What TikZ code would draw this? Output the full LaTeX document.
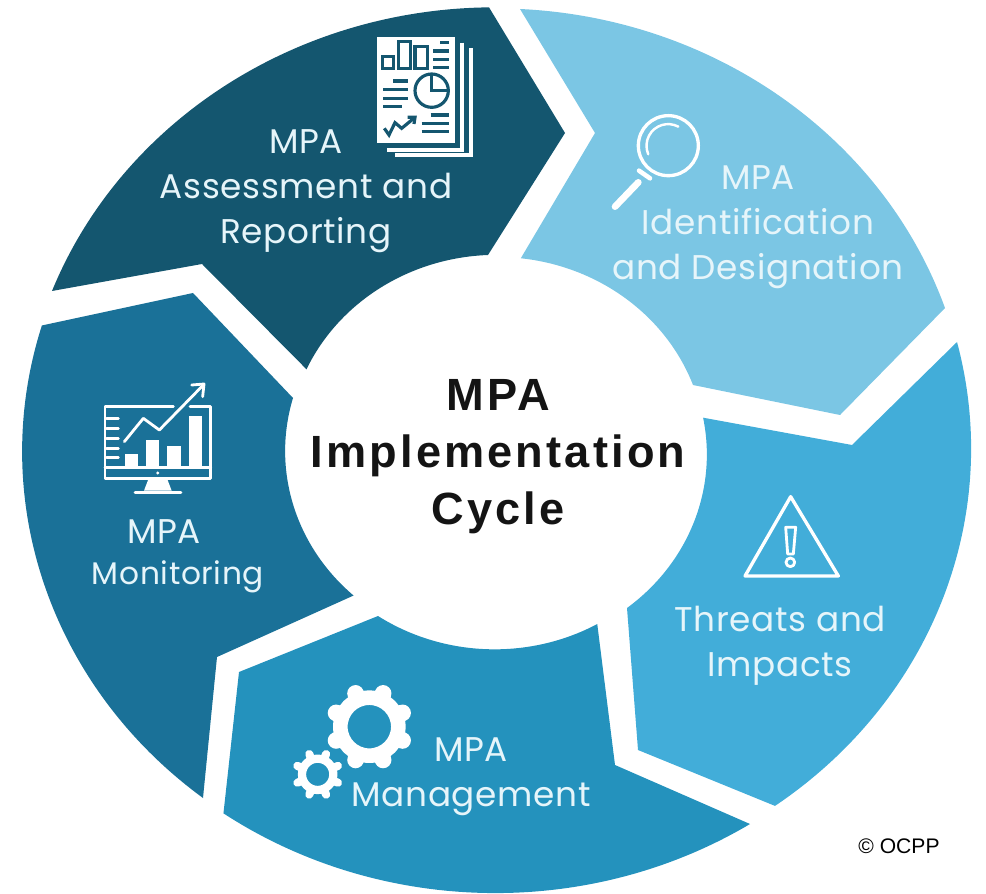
\documentclass[tikz,border=0pt]{standalone}
\usetikzlibrary{calc}
\usepackage{fontspec}
\setmainfont{Liberation Sans}
\newfontfamily\seglabelfont[LetterSpace=2]{Poppins}
\newfontfamily\cyclefont[LetterSpace=7]{Liberation Sans}
\definecolor{assesscol}{HTML}{14566F}
\definecolor{identcol}{HTML}{7BC6E4}
\definecolor{threatcol}{HTML}{42ADD9}
\definecolor{managecol}{HTML}{2492BD}
\definecolor{monitorcol}{HTML}{1A7198}
\definecolor{labelcol}{HTML}{E6F5FA}
\begin{document}
\begin{tikzpicture}[x=0.02cm,y=0.02cm,
    outerarc/.style={x radius=474,y radius=441},
    innerarc/.style={x radius=208.5,y radius=195},
    seglabel/.style={text=labelcol,align=center,font=\seglabelfont\fontsize{19.5}{25.6}\selectfont},
    iconline/.style={draw=white,line width=1.6pt,line join=round,line cap=round}]
    \useasboundingbox (0,0) rectangle (986,893);

    % Segments
    \fill[assesscol] (52,602) arc[start angle=159.1,end angle=90.7,outerarc] -- (565,760)
        -- (488,638) arc[start angle=92.3,end angle=155.6,innerarc] -- (202,629) -- cycle;
    \fill[identcol] (520,884) arc[start angle=87.1,end angle=18.7,outerarc] -- (840,478)
        -- (693,508) arc[start angle=20.1,end angle=83.5,innerarc] -- (595,760) -- cycle;
    \fill[threatcol] (957,551) arc[start angle=14,end angle=-54.1,outerarc] -- (638,143)
        -- (627,285) arc[start angle=-51.9,end angle=10.9,innerarc] -- (852,448) -- cycle;
    \fill[managecol] (750,69) arc[start angle=-57.5,end angle=-125,outerarc] -- (239,221)
        -- (378,277) arc[start angle=-124,end angle=-60.5,innerarc] -- (615,128) -- cycle;
    \fill[monitorcol] (203,95) arc[start angle=231.8,end angle=163.4,outerarc] -- (193,600)
        -- (293,495) arc[start angle=164.2,end angle=227.8,innerarc] -- (217,236) -- cycle;

    % Labels
    \node[seglabel] (assesslabel) at (306,702) {MPA\\Assessment and\\Reporting};
    \node[seglabel] (identlabel) at (758,666) {MPA\\Identification\\and Designation};
    \node[seglabel] (threatlabel) at (780,247) {Threats and\\Impacts};
    \node[seglabel] (managelabel) at (471,116) {MPA\\Management};
    \node[seglabel] (monitorlabel) at (164,361) {MPA};
    \node[seglabel,font=\seglabelfont\fontsize{17.8}{25.6}\selectfont] (monitorname) at (178,316) {Monitoring};
    \node[align=center,text=black!92,font=\cyclefont\bfseries\fontsize{25.7}{32.4}\selectfont] (cycle) at (498,436)
        {MPA\\Implementation\\Cycle};
    \node[font=\fontsize{12}{14}\selectfont] (credit) at (899,47) {© OCPP};

    % Report icon
    \begin{scope}[shift={(340,893)},xscale=1/3,yscale=-1/3]
        \fill[white] (110,110) rectangle (345,430);
        \draw[white,line width=2.4pt] (365,128) -- (365,450) -- (140,450);
        \draw[white,line width=2.4pt] (392,145) -- (392,465) -- (165,465);
        \draw[assesscol,line width=1.8pt] (128,170) rectangle (160,205);
        \draw[assesscol,line width=1.8pt] (175,125) rectangle (212,205);
        \draw[assesscol,line width=1.8pt] (225,140) rectangle (262,205);
        \foreach \y/\s in {128/300,153/280,178/280,203/280}
            \draw[assesscol,line width=1.8pt] (\s,\y) -- (328,\y);
        \foreach \y/\s/\e in {243/160/205,268/130/205,295/130/205,320/130/185}
            \draw[assesscol,line width=1.8pt] (\s,\y) -- (\e,\y);
        \draw[assesscol,line width=1.8pt] (275,272) circle (50);
        \draw[assesscol,line width=1.8pt] (275,222) -- (275,272) -- (325,272);
        \draw[assesscol,line width=1.8pt] (133,385) -- (147,405) -- (165,368) -- (185,385) -- (225,352);
        \draw[assesscol,line width=1.8pt] (203,352) -- (225,352) -- (222,372);
        \foreach \y/\s in {345/272,370/245,395/245}
            \draw[assesscol,line width=1.8pt] (\s,\y) -- (328,\y);
    \end{scope}

    % Magnifier icon
    \begin{scope}[shift={(600,788)},xscale=1/3,yscale=-1/3]
        \draw[iconline,line width=1.9pt] (205,122) circle (90);
        \draw[iconline,line width=1.4pt] (235,65) arc[start angle=-62,end angle=-203,radius=65];
        \draw[iconline,line width=2.6pt] (117,197) -- (150,220);
        \draw[iconline,line width=3.8pt] (45,305) -- (115,232);
    \end{scope}

    % Monitor icon
    \begin{scope}[shift={(80,533)},xscale=1/3,yscale=-1/3]
        \draw[iconline] (280,140) -- (75,140) -- (75,355) -- (392,355) -- (392,140) -- (330,140);
        \draw[iconline] (75,322) -- (392,322);
        \fill[white] (233,339) circle (5);
        \fill[white] (205,358) -- (262,358) -- (275,392) -- (192,392) -- cycle;
        \draw[iconline] (165,397) -- (303,397);
        \foreach \x/\y in {135/282,198/240,262/258,327/168}
            \fill[white] (\x,\y) rectangle (\x+40,320);
        \foreach \y in {175,205,235,265,292}
            \draw[iconline] (80,\y) -- (115,\y);
        \draw[iconline] (133,245) -- (190,175) -- (238,210) -- (370,75);
        \draw[iconline] (335,75) -- (372,72) -- (368,110);
    \end{scope}

    % Gear icons
    \begin{scope}[shift={(270,223)},xscale=1/3,yscale=-1/3]
        \draw[white,line width=8.3pt] (298,170) circle (87);
        \foreach \a in {22.5,67.5,...,337.5}
            \draw[white,line width=9.5pt,line cap=round] ($(298,170)+(\a:95)$) -- ($(298,170)+(\a:108)$);
        \draw[white,line width=4.7pt] (143,313) circle (47);
        \foreach \a in {22.5,67.5,...,337.5}
            \draw[white,line width=4.6pt,line cap=round] ($(143,313)+(\a:50)$) -- ($(143,313)+(\a:66)$);
    \end{scope}

    % Warning icon
    \begin{scope}[shift={(720,413)},xscale=1/3,yscale=-1/3]
        \draw[iconline,line width=1.9pt] (212,50) -- (355,288) -- (75,288) -- cycle;
        \draw[iconline] (197,142) -- (227,142) -- (220,222) -- (203,222) -- cycle;
        \draw[iconline] (211,247) circle (13);
    \end{scope}
\end{tikzpicture}
\end{document}
